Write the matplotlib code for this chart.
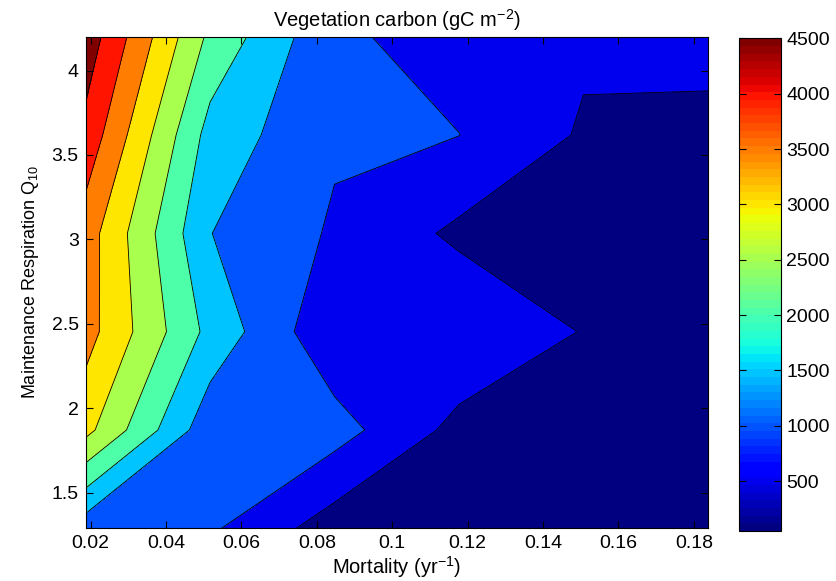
import numpy as np
import matplotlib
matplotlib.use("Agg")
import matplotlib.pyplot as plt
from matplotlib.colors import Normalize
from matplotlib.cm import ScalarMappable
from matplotlib.ticker import FuncFormatter

plt.rcParams["font.family"] = ["Liberation Sans", "DejaVu Sans"]
plt.rcParams["mathtext.fontset"] = "custom"
plt.rcParams["mathtext.rm"] = "Liberation Sans"
plt.rcParams["mathtext.it"] = "Liberation Sans:italic"
plt.rcParams["mathtext.default"] = "regular"

# parameter grid: mortality (yr-1) and maintenance respiration Q10
mortality = np.linspace(0.0187, 0.1837, 6)
q10 = np.linspace(1.29, 4.2, 6)

# vegetation carbon (gC m-2), one row per Q10 value (low -> high)
veg_q10_129 = [1207, 1075, 245, 150, 100, 50]
veg_q10_187 = [3150, 1170, 1210, 345, 250, 200]
veg_q10_245 = [3703, 1850, 592, 941, 477, 330]
veg_q10_304 = [3750, 1510, 940, 400, 300, 260]
veg_q10_362 = [4347, 1806, 1060, 1005, 444, 420]
veg_q10_420 = [4800, 2385, 1080, 813, 581, 598]

levels = [500, 1000, 1500, 2000, 2500, 3000, 3500, 4000, 4500]
cbar_ticks = [500, 1000, 1500, 2000, 2500, 3000, 3500, 4000, 4500]
xticks = [0.02, 0.04, 0.06, 0.08, 0.1, 0.12, 0.14, 0.16, 0.18]
yticks = [1.5, 2, 2.5, 3, 3.5, 4]

Z = np.array([veg_q10_129, veg_q10_187, veg_q10_245,
              veg_q10_304, veg_q10_362, veg_q10_420], dtype=float)
X, Y = np.meshgrid(mortality, q10)

# MATLAB-like fill colours: each band takes the colour of its lower level
cmap = plt.get_cmap("jet", 64)
norm = Normalize(vmin=Z.min(), vmax=max(levels))
bounds = [0] + levels + [Z.max() + 1000]
band_colors = [cmap(norm(max(lo, Z.min()))) for lo in bounds[:-1]]

fig = plt.figure(figsize=(8.36, 5.81), dpi=100)
ax = fig.add_axes([0.1025, 0.0907, 0.7441, 0.8461])
cax = fig.add_axes([0.884, 0.086, 0.050, 0.848])

ax.contourf(X, Y, Z, levels=bounds, colors=band_colors)
ax.contour(X, Y, Z, levels=levels, colors="k", linewidths=0.6)

ax.set_xlim(mortality[0], mortality[-1])
ax.set_ylim(q10[0], q10[-1])
ax.set_xticks(xticks)
ax.set_yticks(yticks)
fmt = FuncFormatter(lambda v, p: f"{v:g}")
ax.xaxis.set_major_formatter(fmt)
ax.yaxis.set_major_formatter(fmt)
ax.tick_params(direction="in", top=True, right=True, length=5, width=0.8,
               labelsize=14, pad=5)
for s in ax.spines.values():
    s.set_linewidth(0.8)

ax.set_title("Vegetation carbon (gC m$^{-2}$)", fontsize=14.5, pad=7)
ax.set_xlabel("Mortality (yr$^{-1}$)", fontsize=14.5, labelpad=1)
ax.set_ylabel("Maintenance Respiration Q$_{10}$", fontsize=13, labelpad=8)

sm = ScalarMappable(norm=norm, cmap=cmap)
cb = fig.colorbar(sm, cax=cax, ticks=cbar_ticks)
cb.outline.set_linewidth(0.8)
cax.tick_params(direction="in", left=True, right=True, length=5, width=0.8,
                labelsize=14, pad=4)

fig.savefig("out.png", dpi=100)
